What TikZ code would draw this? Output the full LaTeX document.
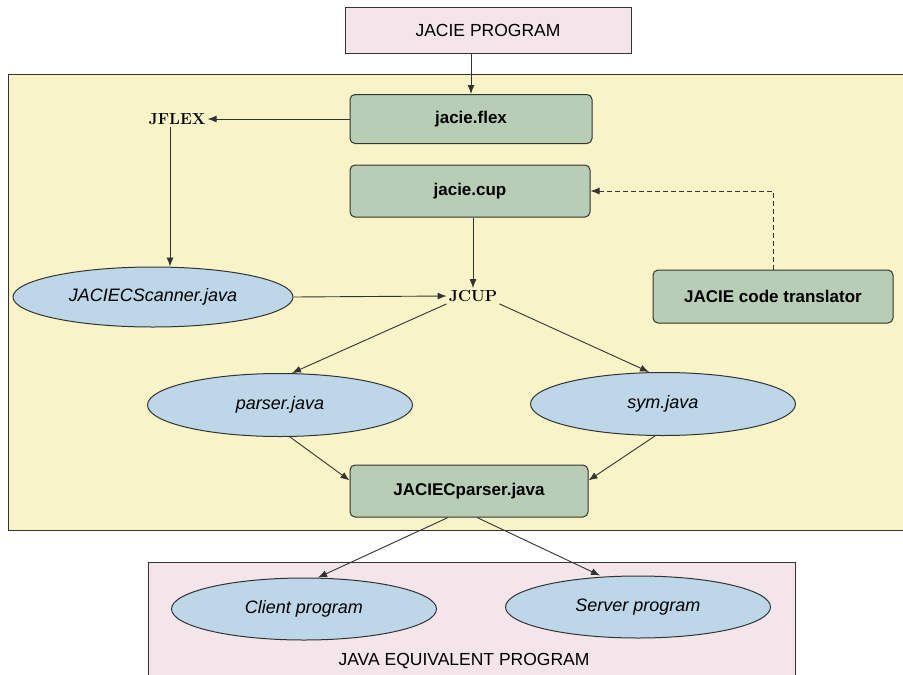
\documentclass[tikz,border=0pt]{standalone}
\usepackage{fontspec}
\setsansfont{Liberation Sans}
\usetikzlibrary{arrows.meta,shapes.geometric,calc}

\definecolor{areayellow}{HTML}{F8F4C8}
\definecolor{areapink}{HTML}{F3E5EA}
\definecolor{boxgreen}{HTML}{B8CDB6}
\definecolor{ovalblue}{HTML}{BDD6E8}
\definecolor{inkline}{HTML}{333333}

\tikzset{
  stepbox/.style={rectangle, rounded corners=5pt, draw=inkline, line width=1pt,
    fill=boxgreen, inner sep=0pt, minimum width=240pt, minimum height=50pt,
    font=\sffamily\bfseries\fontsize{17}{20}\selectfont},
  plainbox/.style={rectangle, draw=inkline, line width=0.8pt, fill=areapink,
    inner sep=0pt, font=\sffamily\fontsize{17.5}{20}\selectfont},
  oval/.style={ellipse, draw=inkline, line width=1pt, fill=ovalblue, inner sep=0pt,
    minimum width=265pt, minimum height=63pt,
    font=\sffamily\itshape\fontsize{18}{21}\selectfont},
  tool/.style={inner sep=2pt, font=\rmfamily\bfseries\fontsize{16}{19}\selectfont},
  flow/.style={draw=inkline, line width=0.9pt, -{Latex[length=9pt,width=7pt]}},
}

\begin{document}
\begin{tikzpicture}[x=1pt, y=-1pt]
  \path[use as bounding box] (0,0) rectangle (903,675);
  \clip (0,0) rectangle (903,675);

  % background areas
  \fill[white] (0,0) rectangle (903,675);
  \draw[draw=inkline, line width=0.9pt, fill=areayellow] (8,74) rectangle (912,530);
  \draw[draw=inkline, line width=0.9pt, fill=areapink] (148,562) rectangle (795,690);

  % nodes
  \node[plainbox, minimum width=286pt, minimum height=46pt] (prog) at (488,30) {JACIE PROGRAM};
  \node[stepbox, minimum width=242pt, minimum height=49pt] (flex) at (471,119) {jacie.flex};
  \node[stepbox, minimum height=52pt] (cup) at (470,191) {jacie.cup};
  \node[tool] (jflex) at (177,119) {JFLEX};
  \node[oval, minimum width=280pt, minimum height=60pt] (scan) at (153,297) {JACIECScanner.java};
  \node[tool] (jcup) at (473,296) {JCUP};
  \node[stepbox, minimum height=53pt] (trans) at (773,296.5) {JACIE code translator};
  \node[oval] (parser) at (280,405) {parser.java};
  \node[oval] (sym) at (663,404) {sym.java};
  \node[stepbox, minimum width=238pt, minimum height=52pt] (jparser) at (469,491) {JACIECparser.java};
  \node[oval, minimum height=62pt] (client) at (304,609) {Client program};
  \node[oval, minimum height=62pt] (server) at (638,607) {Server program};
  \node[font=\sffamily\fontsize{17.5}{20}\selectfont] (javaeq) at (464,661) {JAVA EQUIVALENT PROGRAM};

  % connectors
  \draw[flow] (flex.north |- prog.south) -- (flex.north);
  \draw[flow] (flex.west) -- (jflex.east);
  \draw[flow] ($(jflex.south)+(-7,0)$) -- ($(scan.north)+(17,0)$);
  \draw[flow] (scan.east) -- (jcup.west);
  \draw[flow] (jcup.north |- cup.south) -- (jcup.north);
  \draw[flow, dashed, dash pattern=on 5pt off 3pt] (trans.north) |- (cup.east);
  \draw[flow] (jcup.south west) -- ($(parser.north)+(12,0)$);
  \draw[flow] (jcup.south east) -- ($(sym.north)+(-14,0)$);
  \draw[flow] ($(parser.south)+(10,0)$) -- ($(jparser.north west)!0.3!(jparser.south west)$);
  \draw[flow] ($(sym.south)+(-8,0)$) -- ($(jparser.north east)!0.3!(jparser.south east)$);
  \draw[flow] ($(jparser.south)+(-21,0)$) -- ($(client.north)+(14,0)$);
  \draw[flow] ($(jparser.south)+(8,0)$) -- ($(server.north)+(-38,0)$);
\end{tikzpicture}
\end{document}
